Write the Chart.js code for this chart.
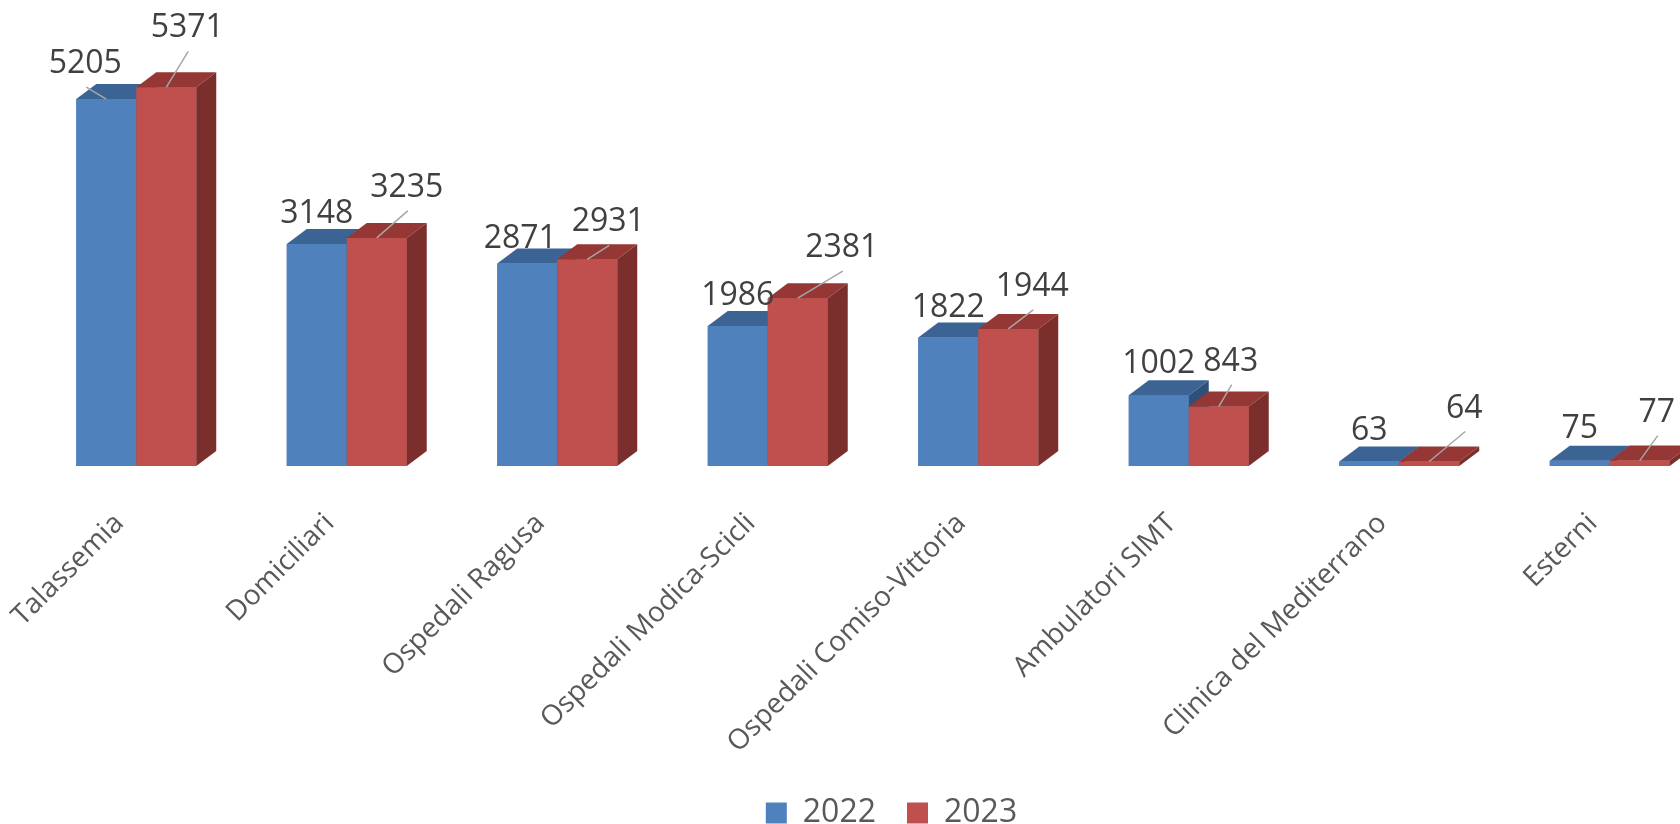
<!DOCTYPE html>
<html>
<head>
<meta charset="utf-8">
<script src="https://cdn.jsdelivr.net/npm/chart.js@4.4.0/dist/chart.umd.min.js"></script>
<style>
html, body { margin: 0; padding: 0; overflow: hidden; background: #fff; }
#contenitore { width: 1680px; height: 824px; overflow: hidden; position: relative; }
#grafico { position: absolute; left: 0; top: 0; }
</style>
</head>
<body>
<div id="contenitore"><canvas id="grafico" width="1782" height="824"></canvas></div>
<script>
var categorie = ['Talassemia', 'Domiciliari', 'Ospedali Ragusa', 'Ospedali Modica-Scicli',
    'Ospedali Comiso-Vittoria', 'Ambulatori SIMT', 'Clinica del Mediterrano', 'Esterni'];
var anni = ['2022', '2023'];
var valori2022 = [5205, 3148, 2871, 1986, 1822, 1002, 63, 75];
var valori2023 = [5371, 3235, 2931, 2381, 1944, 843, 64, 77];

// spostamento delle etichette rispetto alla cima della barra (come nel foglio originale)
var etichette = {
    '2022': {
        dx: [-21, 0, -7, 0, 0, 0, 0, 0],
        dy: [-37, -32, -27, -32, -32, -33, -33, -34],
        linea: [true, false, false, false, false, false, false, false]
    },
    '2023': {
        dx: [21, 30, 21, 44, 24, 12, 35, 17],
        dy: [-61, -52, -39, -52, -44, -47, -55, -50],
        linea: [true, true, true, true, true, true, true, true]
    }
};

var colori = {
    '2022': { fronte: '#4F81BD', sopra: '#3B6394', lato: '#2F5078' },
    '2023': { fronte: '#C0504D', sopra: '#943735', lato: '#7B2F2D' }
};

var profondita = { x: 20, y: 15 };

function disegnaBarra3d(ctx, bar, col) {
    var p = bar.getProps(['x', 'y', 'base', 'width'], true);
    var x0 = p.x - p.width / 2;
    var x1 = p.x + p.width / 2;
    var yt = p.y;
    var yb = p.base;

    // faccia frontale (quella della libreria)
    bar.draw(ctx);

    ctx.fillStyle = col.sopra;
    ctx.beginPath();
    ctx.moveTo(x0, yt);
    ctx.lineTo(x1, yt);
    ctx.lineTo(x1 + profondita.x, yt - profondita.y);
    ctx.lineTo(x0 + profondita.x, yt - profondita.y);
    ctx.closePath();
    ctx.fill();

    ctx.fillStyle = col.lato;
    ctx.beginPath();
    ctx.moveTo(x1, yt);
    ctx.lineTo(x1 + profondita.x, yt - profondita.y);
    ctx.lineTo(x1 + profondita.x, yb - profondita.y);
    ctx.lineTo(x1, yb);
    ctx.closePath();
    ctx.fill();
}

// le barre vengono ridisegnate serie per serie, categoria per categoria,
// cosi' la barra rossa copre il fianco di quella blu
var barre3d = {
    id: 'barre3d',
    afterDatasetsDraw: function(chart) {
        var ctx = chart.ctx;
        ctx.save();
        for (var j = 0; j < categorie.length; j++) {
            for (var i = 0; i < chart.data.datasets.length; i++) {
                var bar = chart.getDatasetMeta(i).data[j];
                disegnaBarra3d(ctx, bar, colori[chart.data.datasets[i].label]);
            }
        }

        ctx.font = "32px 'Open Sans', sans-serif";
        ctx.textAlign = 'center';
        ctx.textBaseline = 'middle';
        chart.data.datasets.forEach(function(ds, i) {
            var pos = etichette[ds.label];
            chart.getDatasetMeta(i).data.forEach(function(bar, j) {
                var lx = bar.x + pos.dx[j];
                var ly = bar.y + pos.dy[j];
                if (pos.linea[j]) {
                    ctx.strokeStyle = '#A6A6A6';
                    ctx.lineWidth = 1.5;
                    ctx.beginPath();
                    ctx.moveTo(lx + 1, ly + 25);
                    ctx.lineTo(bar.x, bar.y);
                    ctx.stroke();
                }
                ctx.fillStyle = '#404040';
                ctx.fillText(ds.data[j], lx, ly + 2);
            });
        });
        ctx.restore();
    }
};

new Chart(document.getElementById('grafico'), {
    type: 'bar',
    data: {
        labels: categorie,
        datasets: [
            {
                label: anni[0],
                data: valori2022,
                backgroundColor: colori['2022'].fronte,
                borderWidth: 0
            },
            {
                label: anni[1],
                data: valori2023,
                backgroundColor: colori['2023'].fronte,
                borderWidth: 0
            }
        ]
    },
    options: {
        responsive: false,
        animation: false,
        datasets: {
            bar: {
                categoryPercentage: 0.57,
                barPercentage: 1.0
            }
        },
        layout: {
            padding: { left: 31, right: 30, top: 43, bottom: -15 }
        },
        scales: {
            x: {
                grid: { display: false },
                border: { display: false },
                ticks: {
                    autoSkip: false,
                    minRotation: 45,
                    maxRotation: 45,
                    padding: 33,
                    labelOffset: -17,
                    color: '#595959',
                    font: { size: 28, family: "'Open Sans', sans-serif" }
                },
                afterFit: function(scale) {
                    scale.height = 300;
                    scale.paddingLeft = 0;
                    scale.paddingRight = 0;
                }
            },
            y: {
                position: 'right',
                min: 0,
                max: 6000,
                grid: { display: false },
                border: { display: false },
                ticks: { display: false },
                afterFit: function(scale) {
                    scale.width = 37;
                }
            }
        },
        plugins: {
            legend: {
                position: 'bottom',
                labels: {
                    boxWidth: 21,
                    boxHeight: 21,
                    padding: 31,
                    color: '#595959',
                    font: { size: 32, family: "'Open Sans', sans-serif" }
                }
            },
            tooltip: { enabled: false }
        }
    },
    plugins: [barre3d]
});
</script>
</body>
</html>
